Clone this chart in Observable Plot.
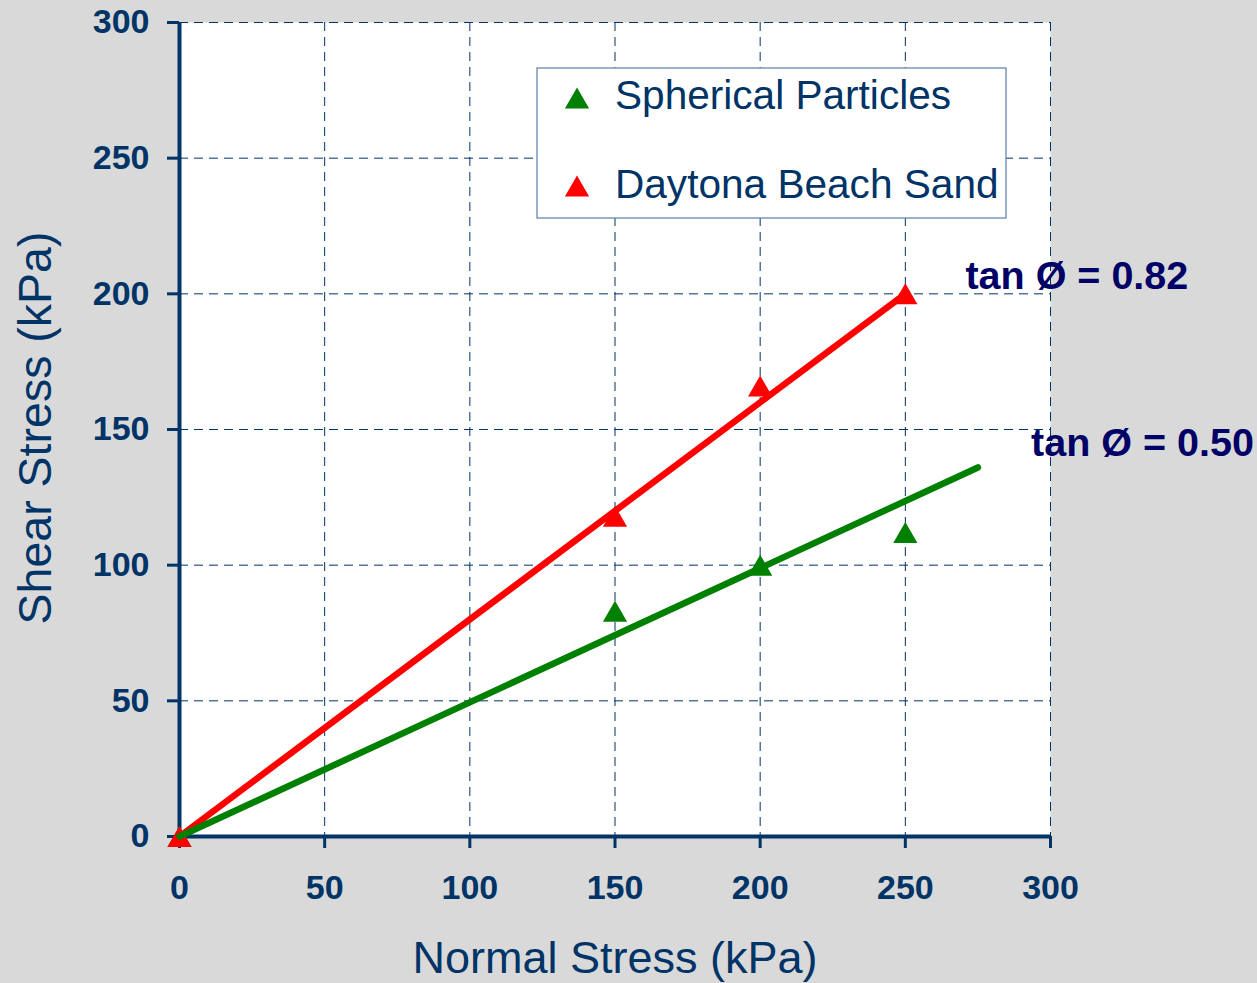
<!DOCTYPE html>
<html><head><meta charset="utf-8">
<script src="https://cdn.jsdelivr.net/npm/d3@7"></script>
<script src="https://cdn.jsdelivr.net/npm/@observablehq/plot@0.6"></script>
<style>
html,body{margin:0;padding:0;background:#d9d9d9;}
#wrap{position:relative;width:1257px;height:983px;}
#legend{position:absolute;left:536px;top:67px;}
</style></head><body><div id="wrap"></div>
<script>
// ---- data ----
const xTicks = [0, 50, 100, 150, 200, 250, 300];
const yTicks = [0, 50, 100, 150, 200, 250, 300];
const normalStress = [0, 150, 200, 250];
const sphericalShear = [0, 83, 100, 112];
const daytonaShear = [0, 118, 166, 200];
const sphericalFitX = [0, 275];
const sphericalFitY = [0, 136];
const daytonaFitX = [0, 250];
const daytonaFitY = [0, 200];
const seriesNames = ["Spherical Particles", "Daytona Beach Sand"];
const seriesColors = ["#008000", "#ff0000"];
const annotationText = ["tan Ø = 0.82", "tan Ø = 0.50"];
const annotationX = [270.7, 293.3];
const annotationY = [201.9, 140.4];
const xTitle = "Normal Stress (kPa)";
const yTitle = "Shear Stress (kPa)";

// ---- tables ----
const spherical = normalStress.map((x, i) => ({x, y: sphericalShear[i]}));
const daytona = normalStress.map((x, i) => ({x, y: daytonaShear[i]}));
const sphericalFit = sphericalFitX.map((x, i) => ({x, y: sphericalFitY[i]}));
const daytonaFit = daytonaFitX.map((x, i) => ({x, y: daytonaFitY[i]}));
const annotations = annotationText.map((t, i) => ({t, x: annotationX[i], y: annotationY[i]}));

const navy = "#003366";
const font = "'Liberation Sans', Arial, Helvetica, sans-serif";

const chart = Plot.plot({
  width: 1257,
  height: 983,
  marginLeft: 179,
  marginRight: 207,
  marginTop: 22,
  marginBottom: 147,
  style: {background: "#d9d9d9", fontFamily: font, overflow: "visible"},
  x: {domain: [0, 300], axis: null},
  y: {domain: [0, 300], axis: null},
  marks: [
    Plot.frame({fill: "white", stroke: null}),
    Plot.ruleX(xTicks.filter(d => d > 0), {stroke: navy, strokeWidth: 1, strokeDasharray: "9,6"}),
    Plot.ruleY(yTicks.filter(d => d > 0), {stroke: navy, strokeWidth: 1, strokeDasharray: "9,6"}),
    Plot.ruleX([0], {y1: 0, y2: 300, stroke: navy, strokeWidth: 4}),
    Plot.ruleY([0], {x1: 0, x2: 300, stroke: navy, strokeWidth: 4}),
    Plot.axisX({ticks: xTicks, tickFormat: d => d, tickSize: 12, tickPadding: 26, fontSize: 34, fontWeight: "bold", color: navy, strokeWidth: 3, label: null}),
    Plot.axisY({ticks: yTicks, tickFormat: d => d, tickSize: 12, tickPadding: 18, fontSize: 34, fontWeight: "bold", color: navy, strokeWidth: 3, label: null}),
    Plot.dot(spherical, {x: "x", y: "y", symbol: "triangle", r: 9, fill: seriesColors[0], stroke: null, dy: 3.5}),
    Plot.dot(daytona, {x: "x", y: "y", symbol: "triangle", r: 9, fill: seriesColors[1], stroke: null, dy: 3.5}),
    Plot.line(daytonaFit, {x: "x", y: "y", stroke: seriesColors[1], strokeWidth: 6.5}),
    Plot.line(sphericalFit, {x: "x", y: "y", stroke: seriesColors[0], strokeWidth: 6.5}),
    Plot.text(annotations, {x: "x", y: "y", text: "t", textAnchor: "start", lineAnchor: "bottom", fontSize: 39.5, fontWeight: "bold", fill: "#000066"}),
    Plot.text([xTitle], {text: d => d, frameAnchor: "bottom", textAnchor: "middle", dy: 136, lineAnchor: "bottom", fontSize: 45, fill: navy}),
    Plot.text([yTitle], {text: d => d, frameAnchor: "left", textAnchor: "middle", rotate: -90, dx: -162, dy: -1.5, lineAnchor: "top", fontSize: 46.5, fill: navy})
  ]
});
const wrap = document.getElementById("wrap");
wrap.appendChild(chart);

// ---- legend (overlay) ----
const lg = d3.select(wrap).append("svg").attr("id", "legend")
  .attr("width", 472).attr("height", 152)
  .style("font-family", font);
lg.append("rect").attr("x", 1).attr("y", 1).attr("width", 469).attr("height", 150)
  .attr("fill", "white").attr("stroke", "#5b7fa6").attr("stroke-width", 1.2);
const tri = d3.symbol(d3.symbolTriangle, 255)();
seriesNames.forEach((name, i) => {
  const cy = 31 + i * 88;
  lg.append("path").attr("d", tri)
    .attr("transform", `translate(41,${cy + 3.5})`).attr("fill", seriesColors[i]);
  lg.append("text").attr("x", 79).attr("y", 42 + i * 88.5)
    .attr("font-size", 40.6).attr("fill", navy).text(name);
});
</script></body></html>
